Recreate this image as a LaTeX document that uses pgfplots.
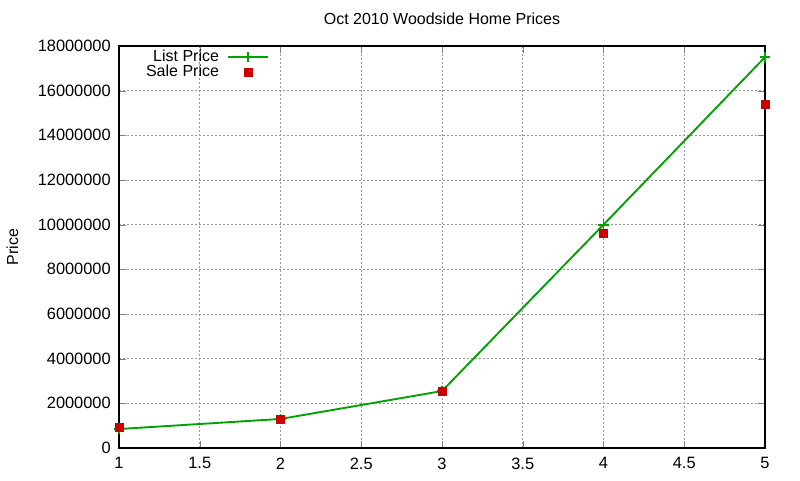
\documentclass[border=0pt]{standalone}
\usepackage{pgfplots}
\pgfplotsset{compat=1.18}
\usepackage{fontspec}
\setmainfont{Liberation Sans}
\definecolor{listgreen}{RGB}{0,160,0}
\definecolor{salered}{RGB}{204,0,0}
\begin{document}
\fontsize{12}{14}\selectfont
\begin{tikzpicture}
\useasboundingbox (-89.25pt,-24pt) rectangle (510.75pt,336pt);
\begin{axis}[
    scale only axis,
    width=484.5pt, height=301.5pt,
    at={(0,0)}, anchor=south west,
    xmin=1, xmax=5, ymin=0, ymax=18000000,
    xtick={1,1.5,...,5},
    ytick={0,2000000,...,18000000},
    scaled y ticks=false,
    /pgf/number format/.cd, fixed, 1000 sep={}, assume math mode=true,
    /pgfplots/.cd,
    tick label style={font=\fontsize{12.3}{14}\selectfont},
    xticklabel style={yshift=-3pt},
    yticklabel style={xshift=-2pt},
    tick align=inside, tick pos=both,
    major tick length=5pt,
    grid=major,
    major grid style={gray!80, line width=0.5pt, dash pattern=on 1.5pt off 1.5pt},
    axis line style={line width=0.8pt},
    title={Oct 2010 Woodside Home Prices},
    title style={at={(0.5,1)}, anchor=base, yshift=10pt, font=\fontsize{12}{14}\selectfont},
    ylabel={Price},
    ylabel style={at={(axis description cs:-0.165,0.5)}, anchor=center, font=\fontsize{12}{14}\selectfont},
    legend style={draw=none, fill=none, inner sep=0pt, at={(0.233,0.997)}, anchor=north east,
                  font=\fontsize{12}{14}\selectfont, row sep=-3.5pt},
    legend plot pos=right,
    legend cell align=right,
]
\addplot[color=listgreen, line width=1.4pt, mark=+, mark size=4pt, mark options={line width=1.4pt},
    legend image code/.code={
        \draw[draw=none] (0pt,0pt) -- (5pt,0pt);
        \draw[listgreen, line width=1.4pt] (5pt,0pt) -- (35pt,0pt);
        \draw[listgreen, line width=1.4pt] (20pt,-4pt) -- (20pt,4pt);
    }]
    coordinates {(1,850000) (2,1300000) (3,2550000) (4,10000000) (5,17500000)};
\addlegendentry{List Price}
\addplot[only marks, mark=square*, mark size=3pt, color=salered,
    legend image code/.code={
        \draw[draw=none] (0pt,0pt) -- (35pt,0pt);
        \fill[salered] (17pt,-3pt) rectangle (23pt,3pt);
    }]
    coordinates {(1,920000) (2,1280000) (3,2550000) (4,9600000) (5,15400000)};
\addlegendentry{Sale Price}
\end{axis}
\end{tikzpicture}
\end{document}
